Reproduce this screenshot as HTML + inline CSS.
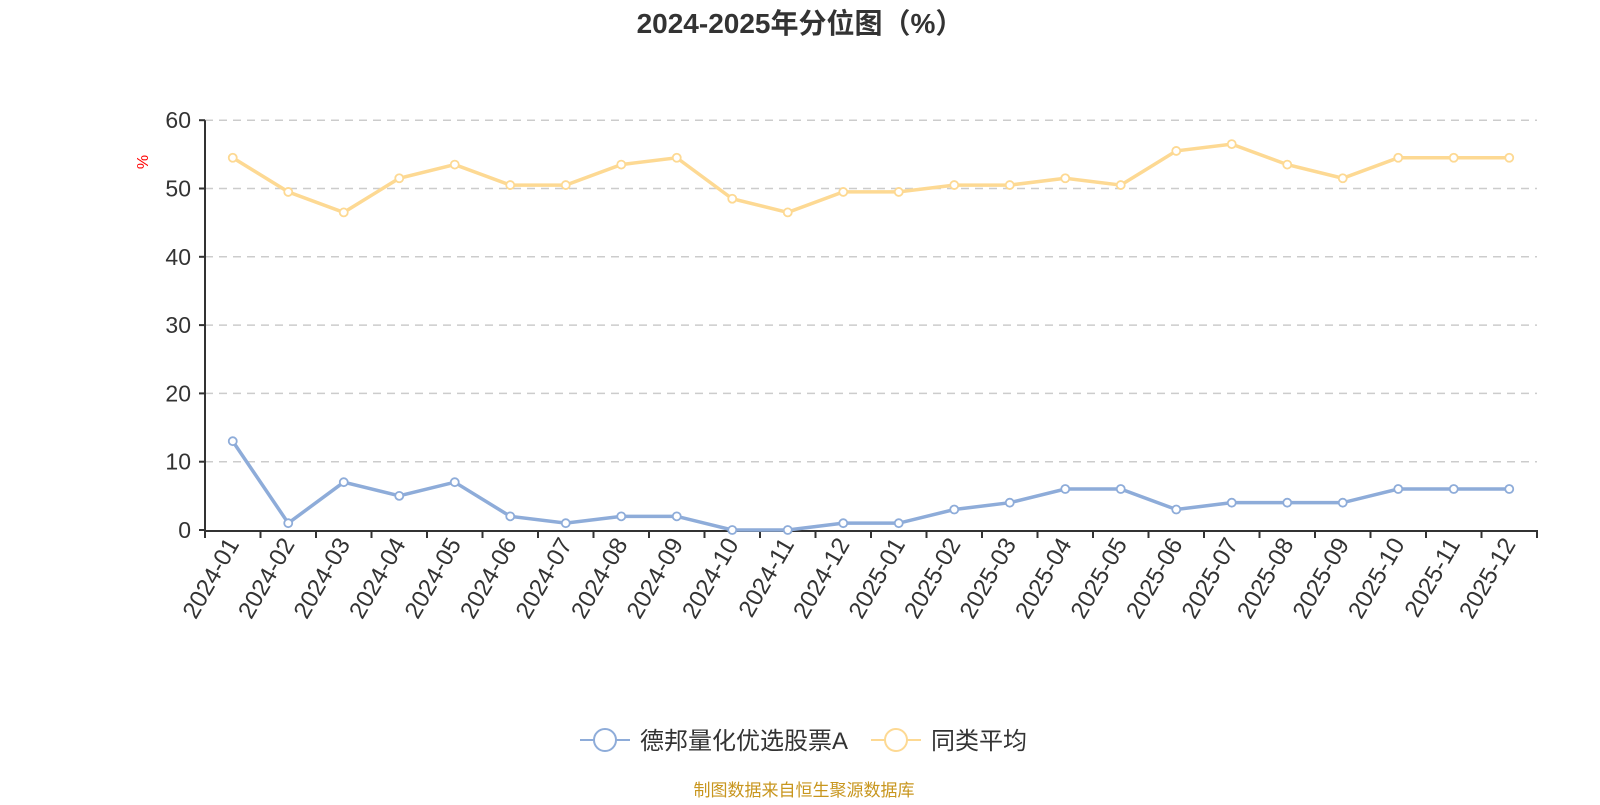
<!DOCTYPE html>
<html><head><meta charset="utf-8"><style>
body{margin:0;background:#fff;width:1600px;height:800px;overflow:hidden}
svg text{font-family:"Liberation Sans","Noto Sans CJK SC",sans-serif}
</style></head><body>
<svg id="c" width="1600" height="800" xmlns="http://www.w3.org/2000/svg"></svg>
<script>
const s=document.getElementById('c');let h='';
const x0=205,x1=1537,yb=530,k=6.83;
const bw=(x1-x0)/24;
const X=i=>x0+bw*(i+0.5),Y=v=>yb-v*k;
h+='<text x="800" y="33" text-anchor="middle" font-size="28" font-weight="bold" fill="#333">2024-2025年分位图（%）</text>';
for(let v=10;v<=60;v+=10)h+=`<line x1="${x0}" x2="${x1}" y1="${Y(v)}" y2="${Y(v)}" stroke="#ccc" stroke-width="1.5" stroke-dasharray="8,6"/>`;
for(let v=0;v<=60;v+=10)h+=`<line x1="${x0-6}" x2="${x0}" y1="${Y(v)}" y2="${Y(v)}" stroke="#333" stroke-width="2"/><text x="${x0-14}" y="${Y(v)+8}" text-anchor="end" font-size="23" fill="#333">${v}</text>`;
h+=`<line x1="${x0}" x2="${x0}" y1="${Y(60)}" y2="${yb+1}" stroke="#333" stroke-width="2"/>`;
h+=`<line x1="${x0}" x2="${x1}" y1="${yb+1}" y2="${yb+1}" stroke="#333" stroke-width="2"/>`;
h+=`<text x="0" y="0" transform="translate(148,162) rotate(-90)" text-anchor="middle" font-size="16" fill="red">%</text>`;
const labs=[];for(let y of [2024,2025])for(let m=1;m<=12;m++)labs.push(y+'-'+String(m).padStart(2,'0'));
for(let i=0;i<=24;i++){const x=x0+bw*i;h+=`<line x1="${x}" x2="${x}" y1="${yb}" y2="${yb+8}" stroke="#333" stroke-width="2"/>`;}
labs.forEach((l,i)=>{h+=`<text transform="translate(${X(i)+7},${yb+14}) rotate(-60)" text-anchor="end" font-size="24" fill="#333">${l}</text>`;});
const a=[13,1,7,5,7,2,1,2,2,0,0,1,1,3,4,6,6,3,4,4,4,6,6,6];
const b=[54.5,49.5,46.5,51.5,53.5,50.5,50.5,53.5,54.5,48.5,46.5,49.5,49.5,50.5,50.5,51.5,50.5,55.5,56.5,53.5,51.5,54.5,54.5,54.5];
function ser(d,c){h+=`<polyline fill="none" stroke="${c}" stroke-width="3.5" points="${d.map((v,i)=>X(i)+','+Y(v)).join(' ')}"/>`;
d.forEach((v,i)=>h+=`<circle cx="${X(i)}" cy="${Y(v)}" r="4" fill="#fff" stroke="${c}" stroke-width="1.8"/>`);}
ser(b,'#fdd993');ser(a,'#8eacd9');
h+=`<line x1="580" x2="630" y1="740" y2="740" stroke="#8eacd9" stroke-width="2"/><circle cx="605" cy="740" r="11" fill="#fff" stroke="#8eacd9" stroke-width="2"/><text x="640" y="749" font-size="24" fill="#333">德邦量化优选股票A</text>`;
h+=`<line x1="871" x2="921" y1="740" y2="740" stroke="#fdd993" stroke-width="2"/><circle cx="896" cy="740" r="11" fill="#fff" stroke="#fdd993" stroke-width="2"/><text x="931" y="749" font-size="24" fill="#333">同类平均</text>`;
h+=`<text x="804" y="796" text-anchor="middle" font-size="17" fill="#c8961e">制图数据来自恒生聚源数据库</text>`;
s.innerHTML=h;
</script></body></html>
